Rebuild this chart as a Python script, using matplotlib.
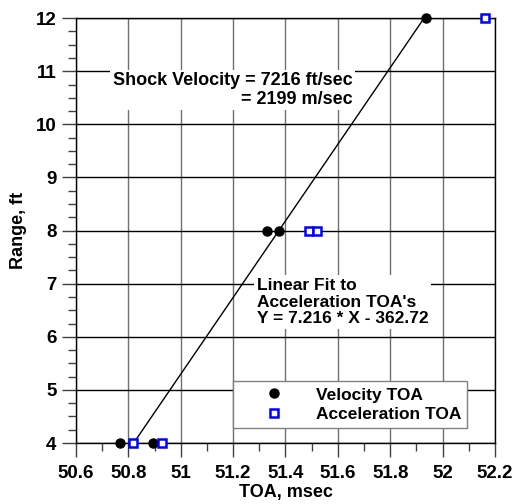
import numpy as np
import matplotlib.pyplot as plt
from matplotlib.ticker import MultipleLocator
from matplotlib.font_manager import FontProperties

plt.rcParams["font.family"] = ["Liberation Sans", "DejaVu Sans"]
plt.rcParams["font.weight"] = "bold"
plt.rcParams["axes.labelweight"] = "bold"
plt.rcParams["font.size"] = 12.5

# Data
vel_toa = [50.768, 50.895, 51.328, 51.376, 51.937]
vel_range = [4, 4, 8, 8, 12]
acc_toa = [50.817, 50.930, 51.490, 51.519, 52.162]
acc_range = [4, 4, 8, 8, 12]

fit_slope = 7.216
fit_intercept = -362.72
fit_range = np.array([4, 12])

x_ticks = [50.6, 50.8, 51.0, 51.2, 51.4, 51.6, 51.8, 52.0, 52.2]
x_tick_labels = ["50.6", "50.8", "51", "51.2", "51.4", "51.6", "51.8",
                 "52", "52.2"]
y_ticks = [4, 5, 6, 7, 8, 9, 10, 11, 12]
y_tick_labels = ["4", "5", "6", "7", "8", "9", "10", "11", "12"]

bold = FontProperties(family="Liberation Sans", weight="bold", size=13.5)

fig = plt.figure(figsize=(5.13, 5.04), dpi=100)
ax = fig.add_axes([0.148, 0.121, 0.817, 0.843])

# fit line (X from Y)
fit_toa = (fit_range - fit_intercept) / fit_slope
ax.plot(fit_toa, fit_range, color="black", lw=1.0, zorder=3)

ax.plot(vel_toa, vel_range, "o", color="black", ms=6.5, clip_on=False,
        zorder=5, label="Velocity TOA")
ax.plot(acc_toa, acc_range, "s", mfc="white", mec="#0000ff", mew=1.8,
        ms=5.5, clip_on=False, zorder=5, label="Acceleration TOA")

ax.set_xlim(50.6, 52.2)
ax.set_ylim(4, 12)
ax.set_xticks(x_ticks, x_tick_labels, fontproperties=bold)
ax.set_yticks(y_ticks, y_tick_labels, fontproperties=bold)
ax.xaxis.set_minor_locator(MultipleLocator(0.1))
ax.yaxis.set_minor_locator(MultipleLocator(0.25))

ax.tick_params(which="major", direction="out", length=10, width=1,
               color="#404040", pad=4)
ax.tick_params(which="minor", direction="out", length=5.5, width=1,
               color="#404040")
ax.tick_params(axis="x", which="major", pad=6)

ax.grid(True, axis="x", which="major", color="#707070", lw=1)
ax.grid(True, axis="y", which="major", color="black", lw=1)
ax.set_axisbelow(True)
for s in ax.spines.values():
    s.set_color("black")
    s.set_linewidth(1)

ax.set_xlabel("TOA, msec", labelpad=1, fontweight="bold", fontsize=13)
ax.set_ylabel("Range, ft", labelpad=6, fontweight="bold", fontsize=13)

ax.text(50.741, 10.645, "Shock Velocity = 7216 ft/sec\n= 2199 m/sec",
        ha="left", va="center", multialignment="right", linespacing=1.1,
        fontsize=13,
        bbox=dict(facecolor="white", edgecolor="none", pad=2), zorder=4)
ax.text(51.291, 6.654,
        "Linear Fit to\nAcceleration TOA's\nY = 7.216 * X - 362.72",
        ha="left", va="center", linespacing=1.15,
        bbox=dict(facecolor="white", edgecolor="none", pad=2), zorder=4)

leg = ax.legend(loc="lower left", bbox_to_anchor=(0.375, 0.035, 0.558, 0.13),
                mode="expand", fancybox=False, framealpha=1,
                edgecolor="#808080", handlelength=4, handletextpad=0.4,
                borderpad=0.35, labelspacing=0.25, borderaxespad=0)
leg.get_frame().set_linewidth(1)
leg.set_zorder(6)

fig.savefig("out.png", dpi=100)
